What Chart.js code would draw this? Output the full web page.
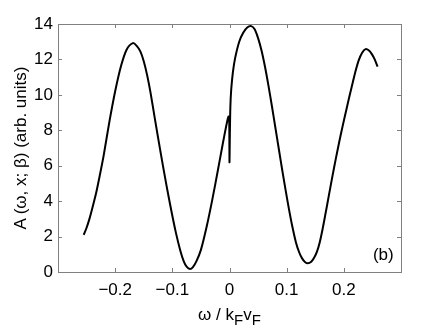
<!DOCTYPE html>
<html>
<head>
<meta charset="utf-8">
<script src="https://cdn.jsdelivr.net/npm/chart.js@4.4.1/dist/chart.umd.min.js"></script>
<style>
  body { margin: 0; background: #fff; }
  #wrap { position: relative; width: 443px; height: 333px; font-family: 'Liberation Sans', Arial, sans-serif; color: #000; }
  #xtitle { position: absolute; left: 58px; width: 343px; top: 305px; text-align: center; font-size: 17px; line-height: 20px; }
  #xtitle sub { font-size: 15px; vertical-align: -5px; line-height: 0; }
  #ytitle { position: absolute; left: -129px; top: 138px; width: 300px; height: 20px; line-height: 20px;
            text-align: center; font-size: 17px; transform: rotate(-90deg); transform-origin: center; }
</style>
</head>
<body>
<div id="wrap">
  <canvas id="chart" width="443" height="333"></canvas>
  <div id="xtitle">ω / k<sub>F</sub>v<sub>F</sub></div>
  <div id="ytitle">A (ω, x; β) (arb. units)</div>
</div>
<script>
// values (omega / kF vF  ->  A)
const omega = [
  -0.255, -0.250, -0.245, -0.240, -0.233, -0.226, -0.220, -0.210, -0.200, -0.190,
  -0.180, -0.169, -0.162, -0.156, -0.150, -0.144, -0.138, -0.130, -0.120, -0.110,
  -0.102, -0.094, -0.086, -0.080, -0.075, -0.069, -0.064, -0.058, -0.050, -0.040,
  -0.030, -0.020, -0.012, -0.006, -0.003, -0.0015, -0.0005, 0.000, 0.0005, 0.0015,
  0.003, 0.006, 0.010, 0.017, 0.024, 0.031, 0.038, 0.044, 0.050, 0.056,
  0.062, 0.068, 0.074, 0.080, 0.086, 0.092, 0.098, 0.104, 0.110, 0.116,
  0.122, 0.127, 0.132, 0.137, 0.143, 0.148, 0.153, 0.158, 0.163, 0.168,
  0.174, 0.180, 0.186, 0.192, 0.198, 0.204, 0.210, 0.216, 0.221, 0.226,
  0.232, 0.238, 0.244, 0.249, 0.254, 0.259
];
const spectral = [
  2.1, 2.5, 3.0, 3.6, 4.5, 5.6, 6.6, 8.5, 10.2, 11.6,
  12.55, 12.92, 12.75, 12.45, 11.9, 11.1, 10.1, 8.55, 6.65, 4.85,
  3.5, 2.25, 1.2, 0.6, 0.3, 0.17, 0.28, 0.6, 1.25, 2.55,
  4.1, 5.8, 7.2, 8.2, 8.65, 8.78, 8.6, 6.2, 7.5, 9.3,
  10.3, 11.3, 12.1, 13.0, 13.5, 13.8, 13.88, 13.7, 13.2, 12.5,
  11.6, 10.55, 9.4, 8.2, 7.0, 5.8, 4.65, 3.55, 2.55, 1.7,
  1.1, 0.77, 0.57, 0.49, 0.58, 0.8, 1.15, 1.7, 2.45, 3.3,
  4.35, 5.4, 6.4, 7.35, 8.25, 9.1, 9.95, 10.75, 11.4, 11.95,
  12.38, 12.58, 12.5, 12.3, 12.0, 11.6
];
const xTicks = [-0.2, -0.1, 0, 0.1, 0.2];
const yTicks = [0, 2, 4, 6, 8, 10, 12, 14];
const panelLabel = '(b)';

const FONT = "'Liberation Sans', Arial, sans-serif";

function formatX(v) {
  if (Math.abs(v) < 1e-9) return '0';
  const s = Math.abs(v).toFixed(1);
  return v < 0 ? '\u2212' + s : s;
}

// frame with inward ticks on all sides, plus the panel label
const frame = {
  id: 'frame',
  afterDraw(chart) {
    const { ctx, chartArea: a, scales } = chart;
    ctx.save();
    ctx.strokeStyle = '#808080';
    ctx.lineWidth = 1;
    ctx.strokeRect(a.left + 0.5, a.top + 0.5, a.right - a.left, a.bottom - a.top);
    ctx.beginPath();
    scales.x.ticks.forEach((t) => {
      const px = Math.round(scales.x.getPixelForValue(t.value)) + 0.5;
      ctx.moveTo(px, a.bottom); ctx.lineTo(px, a.bottom - 4);
      ctx.moveTo(px, a.top); ctx.lineTo(px, a.top + 4);
    });
    scales.y.ticks.forEach((t) => {
      const py = Math.round(scales.y.getPixelForValue(t.value)) + 0.5;
      ctx.moveTo(a.left, py); ctx.lineTo(a.left + 4, py);
      ctx.moveTo(a.right, py); ctx.lineTo(a.right - 4, py);
    });
    ctx.stroke();
    ctx.fillStyle = '#000';
    ctx.font = '17px ' + FONT;
    ctx.textAlign = 'center';
    ctx.textBaseline = 'middle';
    ctx.fillText(panelLabel, scales.x.getPixelForValue(0.269), scales.y.getPixelForValue(0.96));
    ctx.restore();
  },
};

new Chart(document.getElementById('chart'), {
  type: 'scatter',
  data: {
    datasets: [
      {
        data: omega.map((x, i) => ({ x, y: spectral[i] })),
        showLine: true,
        borderColor: '#000',
        borderWidth: 2,
        pointRadius: 0,
        tension: 0.3,
      },
    ],
  },
  options: {
    responsive: false,
    animation: false,
    layout: { padding: { left: 0, right: 42, top: 24, bottom: 0 } },
    plugins: { legend: { display: false }, tooltip: { enabled: false } },
    scales: {
      x: {
        type: 'linear',
        min: -0.3,
        max: 0.3,
        afterBuildTicks: (s) => { s.ticks = [-0.3, ...xTicks, 0.3].map((v) => ({ value: v })); },
        afterFit: (s) => { s.height = 61; },
        grid: { display: false, drawTicks: false },
        border: { display: false },
        ticks: {
          color: '#000',
          font: { family: FONT, size: 17 },
          padding: 8,
          maxRotation: 0,
          autoSkip: false,
          callback: (v) => (Math.abs(v) > 0.25 ? '' : formatX(v)),
        },
      },
      y: {
        min: 0,
        max: 14,
        afterBuildTicks: (s) => { s.ticks = yTicks.map((v) => ({ value: v })); },
        afterFit: (s) => { s.width = 58; },
        grid: { display: false, drawTicks: false },
        border: { display: false },
        ticks: {
          color: '#000',
          font: { family: FONT, size: 17 },
          padding: 5,
          autoSkip: false,
        },
      },
    },
  },
  plugins: [frame],
});
</script>
</body>
</html>
